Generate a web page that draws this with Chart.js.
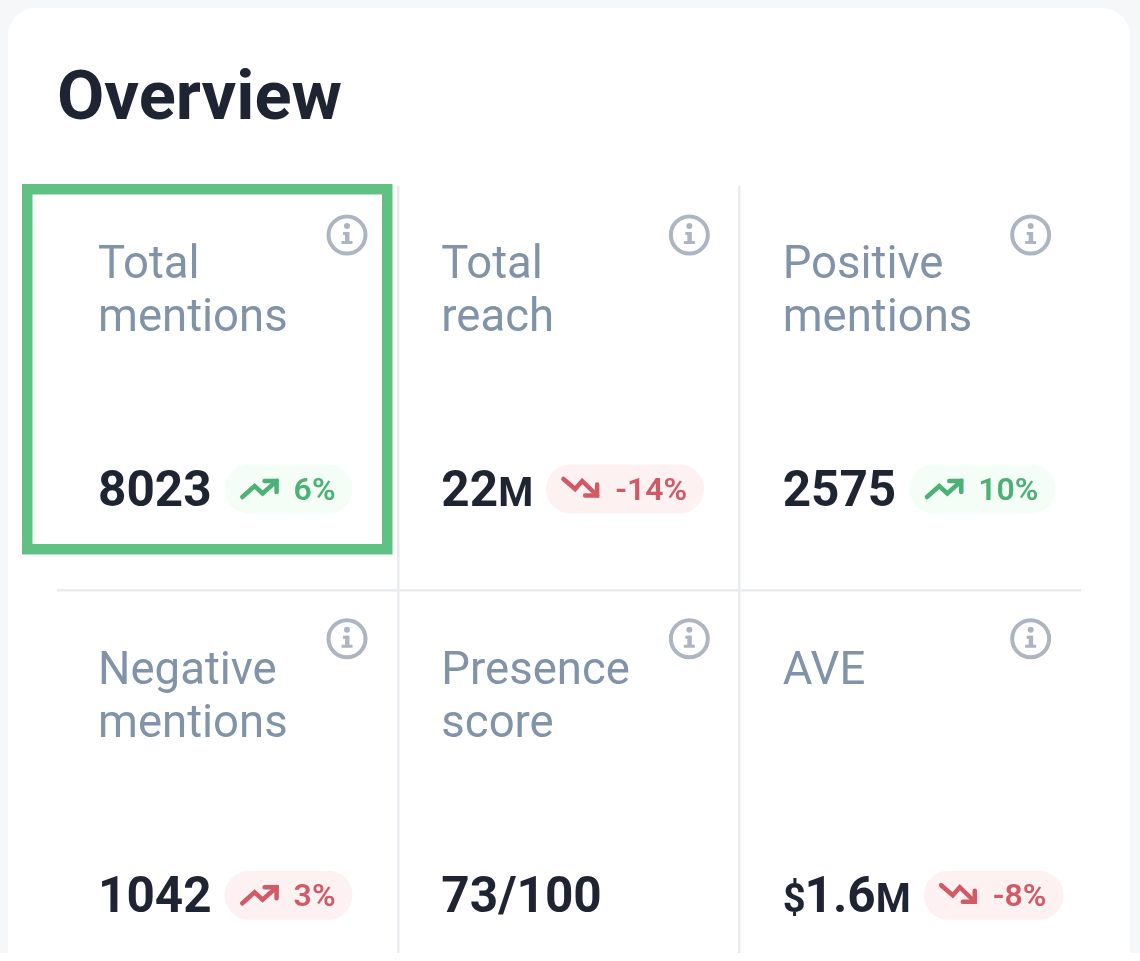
<!DOCTYPE html>
<html>
<head>
<meta charset="utf-8">
<title>Overview</title>
<script src="https://cdn.jsdelivr.net/npm/chart.js@4"></script>
<style>
    body { margin: 0; background: #f5f7f8; overflow: hidden; }
    #card { position: absolute; left: 8px; top: 8px; width: 1122px; height: 980px; background: #fff; border-radius: 28px; }
    #foot { position: absolute; left: 0; top: 953px; width: 1140px; height: 8px; background: #fff; }
    #chart { position: absolute; left: 0; top: 0; }
</style>
</head>
<body>
<div id="card"></div>
<div id="foot"></div>
<canvas id="chart" width="1140" height="961"></canvas>
<script>
"use strict";

// data
const heading = "Overview";
const labelLines = [
    ["Total", "mentions"],
    ["Total", "reach"],
    ["Positive", "mentions"],
    ["Negative", "mentions"],
    ["Presence", "score"],
    ["AVE"],
];
const valuePrefixes = ["", "", "", "", "", "$"];
const valueTexts = ["8023", "22", "2575", "1042", "73/100", "1.6"];
const valueSuffixes = ["", "M", "", "", "", "M"];
const changes = [6, -14, 10, 3, null, -8];
const changeIsGood = [true, false, true, false, null, false];
const highlighted = 0;

const GREEN = { text: "#4bb174", pill: "#f4fdf6" };
const RED = { text: "#d05a66", pill: "#fdf1f2" };
const DARK = "#1e2432";
const GREY = "#8093a8";

const setFont = (ctx, weight, size) => {
    ctx.font = `${weight} ${size}px Roboto`;
};

const drawInfoIcon = (ctx, cx, cy) => {
    ctx.strokeStyle = "#adb5c3";
    ctx.fillStyle = "#adb5c3";
    ctx.lineWidth = 4;
    ctx.beginPath();
    ctx.arc(cx, cy, 18.5, 0, Math.PI * 2);
    ctx.stroke();
    ctx.beginPath();
    ctx.arc(cx, cy - 9, 3, 0, Math.PI * 2);
    ctx.fill();
    ctx.fillRect(cx - 4, cy - 3, 6, 3);
    ctx.fillRect(cx - 2, cy - 3, 4.5, 11);
    ctx.fillRect(cx - 5.5, cy + 6, 11, 3);
};

const drawTrend = (ctx, x, mid, up) => {
    const line = up
        ? [[0.7, 8], [13, -3], [21, 4.5], [35, -8]]
        : [[0.3, -10], [12, 0], [19, -8], [34, 6.5]];
    const head = up
        ? [[23, -8], [35, -8], [35, 3]]
        : [[34, -4.5], [34, 6.5], [22, 6.5]];
    ctx.lineWidth = 4.5;
    ctx.lineCap = "round";
    ctx.lineJoin = "miter";
    [line, head].forEach((pts) => {
        ctx.beginPath();
        pts.forEach((p, i) => {
            if (i === 0) ctx.moveTo(x + p[0], mid + p[1]);
            else ctx.lineTo(x + p[0], mid + p[1]);
        });
        ctx.stroke();
    });
};

// draws the card contents at the cell corners that the scales give
const overviewPlugin = {
    id: "overview",
    afterDatasetsDraw(chart) {
        const ctx = chart.ctx;
        const cells = chart.getDatasetMeta(0).data;
        ctx.save();
        ctx.textBaseline = "alphabetic";
        ctx.textAlign = "left";

        ctx.fillStyle = DARK;
        setFont(ctx, 700, 68.7);
        ctx.fillText(heading, 57, 119);

        cells.forEach((cell, i) => {
            // the first column sits a little tighter in the original
            const left = cell.x + (i % 3 === 0 ? 41 : 43);
            // second row text sits a bit lower under its rule
            const rowShift = i >= 3 ? 1.5 : 0;

            drawInfoIcon(ctx, cell.x + (i % 3 === 0 ? 290 : 291), cell.y + 49 - rowShift / 1.5);

            ctx.fillStyle = GREY;
            setFont(ctx, 400, 45.5);
            labelLines[i].forEach((line, n) => {
                ctx.fillText(line, left, cell.y + 91.5 + rowShift + n * 53);
            });

            // value, with smaller prefix and suffix
            const baseline = cell.y + 319.5 + rowShift;
            let x = left;
            ctx.fillStyle = DARK;
            setFont(ctx, 700, 40);
            if (valuePrefixes[i]) {
                ctx.fillText(valuePrefixes[i], x, baseline);
                x += ctx.measureText(valuePrefixes[i]).width - 1;
            }
            setFont(ctx, 700, 49.5);
            ctx.fillText(valueTexts[i], x, baseline);
            x += ctx.measureText(valueTexts[i]).width;
            if (valueSuffixes[i]) {
                setFont(ctx, 700, 40);
                ctx.fillText(valueSuffixes[i], x, baseline);
                x += ctx.measureText(valueSuffixes[i]).width;
            }

            if (changes[i] === null) return;

            // change pill
            const tone = changeIsGood[i] ? GREEN : RED;
            const text = `${changes[i]}%`;
            setFont(ctx, 600, 32);
            const textWidth = ctx.measureText(text).width;
            const pillX = x + 13;
            const pillW = 17 + 38 + 14 + textWidth + 17;
            const mid = baseline - 16.5;
            ctx.fillStyle = tone.pill;
            ctx.beginPath();
            ctx.roundRect(pillX, mid - 24.5, pillW, 49, 24.5);
            ctx.fill();
            ctx.strokeStyle = tone.text;
            drawTrend(ctx, pillX + 17, mid, changes[i] > 0);
            ctx.fillStyle = tone.text;
            ctx.fillText(text, pillX + 69, baseline - 5.5);
        });

        // green highlight around the first cell
        const first = cells[highlighted];
        ctx.strokeStyle = "#5fc183";
        ctx.lineWidth = 10.5;
        ctx.lineJoin = "miter";
        ctx.strokeRect(first.x - 29.75, first.y + 3.25, 360, 360);
        ctx.restore();
    },
};

const chart = new Chart(document.getElementById("chart").getContext("2d"), {
    type: "scatter",
    data: {
        datasets: [
            {
                label: heading,
                data: labelLines.map((_, i) => ({ x: i % 3, y: Math.floor(i / 3) })),
                pointRadius: 0,
            },
        ],
    },
    options: {
        responsive: false,
        animation: false,
        layout: { padding: { left: 57, top: 186, right: 59, bottom: 8 } },
        plugins: {
            legend: { display: false },
            tooltip: { enabled: false },
        },
        scales: {
            x: {
                type: "linear",
                min: 0,
                max: 3,
                ticks: { display: false, stepSize: 1 },
                border: { display: false },
                grid: {
                    drawTicks: false,
                    lineWidth: 2.5,
                    color: (c) => (c.tick.value === 1 || c.tick.value === 2 ? "#e8eaed" : "transparent"),
                },
            },
            y: {
                type: "linear",
                reverse: true,
                min: 0,
                max: 1.895,
                ticks: { display: false, stepSize: 1 },
                border: { display: false },
                grid: {
                    drawTicks: false,
                    lineWidth: 2.5,
                    color: (c) => (c.tick.value === 1 ? "#e8eaed" : "transparent"),
                },
            },
        },
    },
    plugins: [overviewPlugin],
});
</script>
</body>
</html>
